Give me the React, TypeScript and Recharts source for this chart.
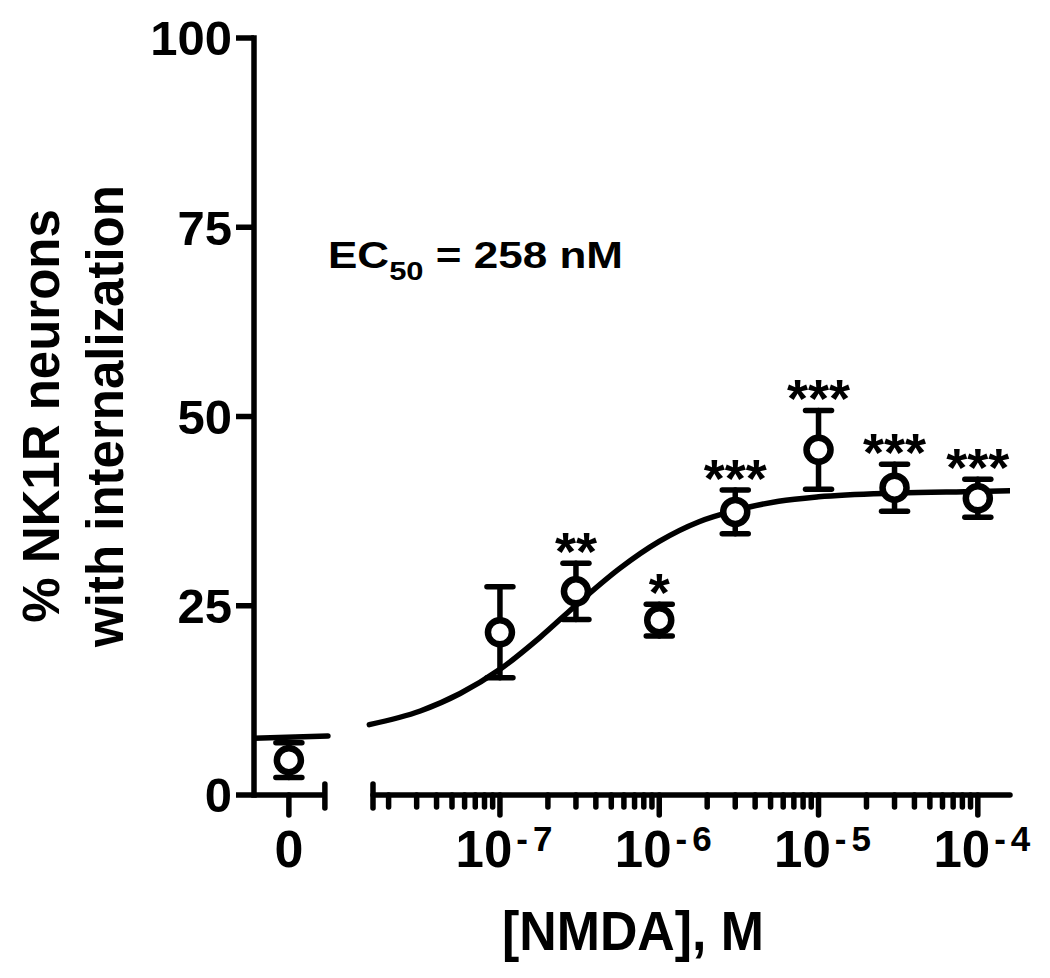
import React from "react";
import {
  ComposedChart,
  XAxis,
  YAxis,
  Line,
  Scatter,
  ErrorBar,
  ReferenceLine,
  Customized,
} from "recharts";

const FONT = "'Liberation Sans', Arial, sans-serif";

// NMDA concentrations (M) and % NK1R neurons with internalization
const concentrations = [1e-7, 3e-7, 1e-6, 3e-6, 1e-5, 3e-5, 1e-4];
const meanPct = [21.5, 26.9, 23.1, 37.4, 45.6, 40.6, 39.2];
const semPct = [6.0, 3.7, 2.1, 2.9, 5.2, 3.1, 2.5];
const significance = ["", "**", "*", "***", "***", "***", "***"];

const controlMean = 4.6;
const controlSem = 2.3;

// fitted curve (log10 M, %)
const fitLogX = [-7.82, -7.5, -7.25, -7, -6.75, -6.5, -6.25, -6, -5.75, -5.5, -5.25, -5, -4.5, -4, -3.798];
const fitPct = [9.3, 11.1, 13.4, 16.6, 20.8, 25.5, 29.9, 33.5, 36.1, 37.7, 38.8, 39.4, 39.9, 40.1, 40.2];
// bottom plateau drawn over the "0" segment
const baseLogX = [-8.544, -8.08];
const basePct = [7.5, 7.8];

const yTicks = [0, 25, 50, 75, 100];
const decadeExps = [-7, -6, -5, -4];

// x layout in log10 units; the control "0" sits left of the axis break
const X_MIN = -8.544;
const X_MAX = -3.798;
const ZERO_POS = -8.325;
const BREAK_LEFT = -8.099;
const BREAK_RIGHT = -7.797;

const points = concentrations.map((c, i) => ({
  x: Math.log10(c),
  y: meanPct[i],
  err: semPct[i],
}));
const controlPoint = [{ x: ZERO_POS, y: controlMean, err: controlSem }];
const starData = points
  .map((p, i) => ({ x: p.x, y: p.y + p.err, label: significance[i] }))
  .filter((d) => d.label);
const fitData = fitLogX.map((x, i) => ({ x, y: fitPct[i] }));
const baseData = baseLogX.map((x, i) => ({ x, y: basePct[i] }));

// tick list for the broken log axis
const tickKinds: { v: number; kind: string; exp?: number }[] = [
  { v: ZERO_POS, kind: "zero" },
  { v: BREAK_LEFT, kind: "cap" },
  { v: BREAK_RIGHT, kind: "cap" },
];
decadeExps.forEach((e) => {
  tickKinds.push({ v: e, kind: "major", exp: e });
  for (let k = 2; k <= 9; k++) {
    const v = e - 1 + Math.log10(k);
    if (v > BREAK_RIGHT) tickKinds.push({ v, kind: "minor" });
  }
});
const xTicks = tickKinds.map((t) => t.v);

const STROKE = 5.5;

function XTick(props: any) {
  const { x, y, payload } = props;
  const t = tickKinds.find((k) => Math.abs(k.v - payload.value) < 1e-6);
  if (!t) return <g />;
  const ln = (y1: number, y2: number) => (
    <line x1={x} x2={x} y1={y1} y2={y2} stroke="#000" strokeWidth={STROKE} strokeLinecap="round" />
  );
  if (t.kind === "cap") return ln(y - 11, y + 13);
  if (t.kind === "minor") return ln(y, y + 12);
  if (t.kind === "zero")
    return (
      <g>
        {ln(y, y + 20)}
        <text x={x} y={y + 72} textAnchor="middle" fontFamily={FONT} fontWeight="bold" fontSize={52} fill="#000">
          0
        </text>
      </g>
    );
  return (
    <g>
      {ln(y, y + 20)}
      <text x={x + 4} y={y + 72} textAnchor="middle" fontFamily={FONT} fontWeight="bold" fontSize={51} fill="#000">
        10
        <tspan fontSize={35} dy={-16} dx={4}>-</tspan>
        <tspan fontSize={35} dx={5}>{String(Math.abs(t.exp as number))}</tspan>
      </text>
    </g>
  );
}

function OpenCircle(props: any) {
  const { cx, cy } = props;
  return <circle cx={cx} cy={cy} r={12} fill="#fff" stroke="#000" strokeWidth={6.5} />;
}

function Stars(props: any) {
  const { cx, cy, payload } = props;
  return (
    <text x={cx} y={cy + 7} textAnchor="middle" fontFamily={FONT} fontWeight="bold" fontSize={54} fill="#000">
      {payload.label}
    </text>
  );
}

function Titles() {
  return (
    <g fontFamily={FONT} fontWeight="bold" fill="#000">
      <text x={59} y={416} transform="rotate(-90 59 416)" textAnchor="middle" fontSize={51}>
        % NK1R neurons
      </text>
      <text x={123} y={416} transform="rotate(-90 123 416)" textAnchor="middle" fontSize={51}>
        with internalization
      </text>
      <text x={633} y={950} textAnchor="middle" fontSize={56} textLength={262} lengthAdjust="spacingAndGlyphs">
        [NMDA], M
      </text>
      <text x={328} y={268} fontSize={37} textLength={295} lengthAdjust="spacingAndGlyphs">
        EC
        <tspan fontSize={26} dy={12}>50</tspan>
        <tspan dy={-12}> = 258 nM</tspan>
      </text>
    </g>
  );
}

export default function App() {
  return (
    <div style={{ position: "absolute", left: 0, top: 0, background: "#fff", fontFamily: FONT }}>
      <ComposedChart width={1050} height={978} margin={{ top: 38, right: 40, bottom: 83, left: 0 }}>
        <XAxis
          type="number"
          dataKey="x"
          domain={[X_MIN, X_MAX]}
          allowDataOverflow
          ticks={xTicks}
          interval={0}
          tick={XTick}
          tickSize={0}
          tickMargin={0}
          axisLine={false}
          tickLine={false}
          height={100}
        />
        <YAxis
          type="number"
          domain={[0, 100]}
          ticks={yTicks}
          width={254}
          tickSize={18}
          tickMargin={4}
          axisLine={{ stroke: "#000", strokeWidth: STROKE, strokeLinecap: "square" }}
          tickLine={{ stroke: "#000", strokeWidth: STROKE }}
          tick={{ fill: "#000", fontSize: 49, fontWeight: "bold", fontFamily: FONT }}
        />
        <ReferenceLine
          segment={[{ x: X_MIN, y: 0 }, { x: BREAK_LEFT, y: 0 }]}
          stroke="#000"
          strokeWidth={STROKE}
        />
        <ReferenceLine
          segment={[{ x: BREAK_RIGHT, y: 0 }, { x: X_MAX, y: 0 }]}
          stroke="#000"
          strokeWidth={STROKE}
          strokeLinecap="round"
        />
        <Scatter data={controlPoint} dataKey="y" shape={OpenCircle} isAnimationActive={false}>
          <ErrorBar dataKey="err" direction="y" width={13} stroke="#000" strokeWidth={STROKE} strokeLinecap="round" />
        </Scatter>
        <Scatter data={points} dataKey="y" shape={OpenCircle} isAnimationActive={false}>
          <ErrorBar dataKey="err" direction="y" width={13} stroke="#000" strokeWidth={STROKE} strokeLinecap="round" />
        </Scatter>
        <Scatter data={starData} dataKey="y" shape={Stars} isAnimationActive={false} />
        <Line
          data={baseData}
          dataKey="y"
          type="linear"
          stroke="#000"
          strokeWidth={STROKE}
          strokeLinecap="round"
          dot={false}
          activeDot={false}
          isAnimationActive={false}
        />
        <Line
          data={fitData}
          dataKey="y"
          type="monotone"
          stroke="#000"
          strokeWidth={STROKE}
          strokeLinecap="round"
          dot={false}
          activeDot={false}
          isAnimationActive={false}
        />
        <Customized component={Titles} />
      </ComposedChart>
    </div>
  );
}
